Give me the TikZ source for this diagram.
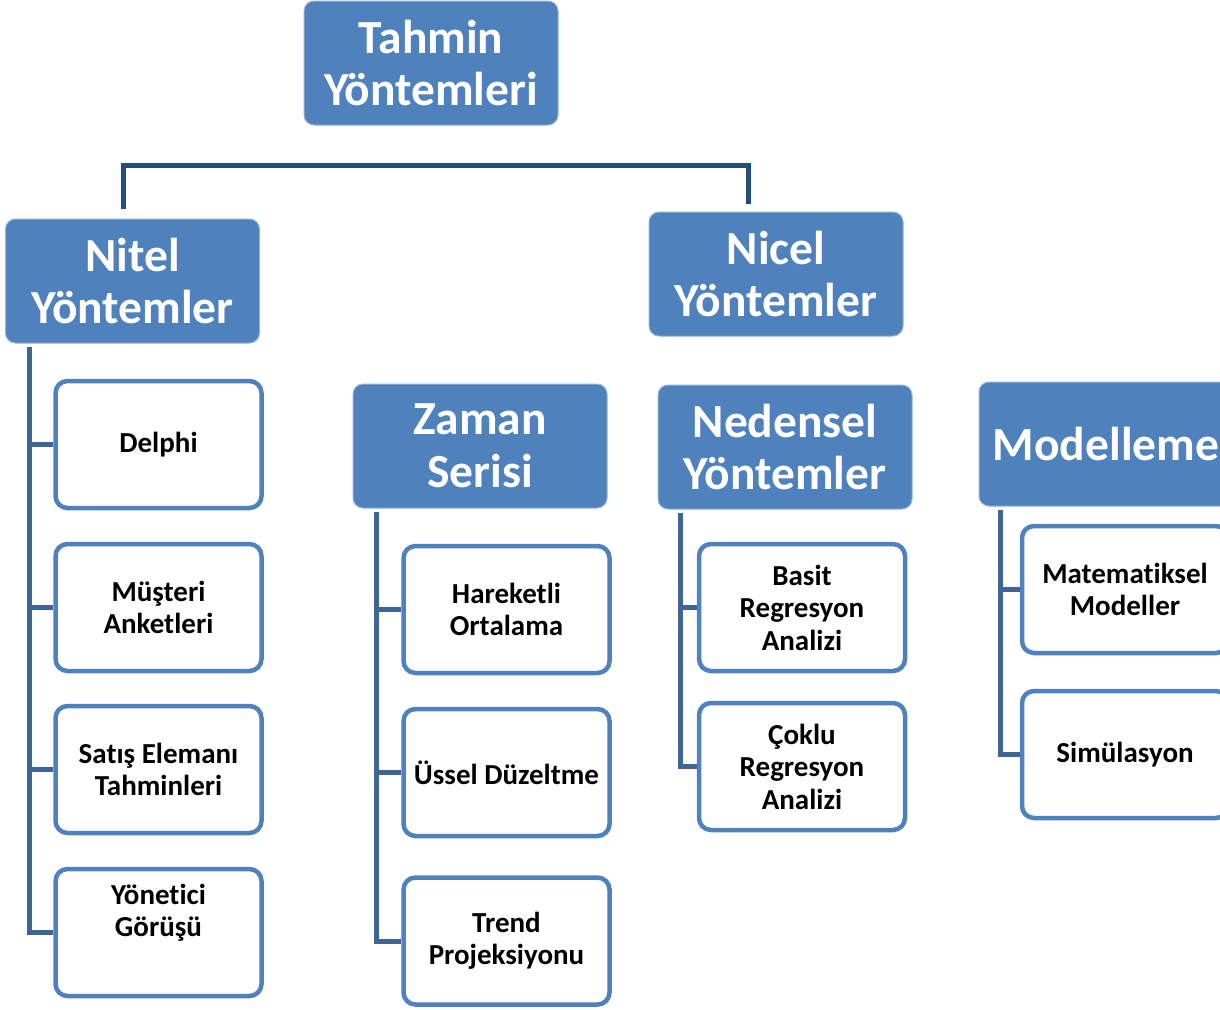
\documentclass[tikz,border=0pt]{standalone}
\usepackage{fontspec}
\setmainfont{Carlito}[Ligatures=NoCommon]
\definecolor{hdr}{RGB}{79,129,189}
\definecolor{mainln}{RGB}{36,76,124}
\definecolor{treeln}{RGB}{62,100,152}
\begin{document}
\begin{tikzpicture}[x=1pt,y=1pt,
  hbox/.style={fill=hdr,draw=hdr!60!white,line width=1pt,rounded corners=10pt,
    minimum width=254pt,minimum height=124pt,inner sep=2pt,align=center,text=white,
    font=\bfseries\fontsize{47.5}{52.5}\selectfont},
  cbox/.style={fill=white,draw=hdr,line width=4.5pt,rounded corners=12pt,
    minimum width=206pt,minimum height=127pt,inner sep=2pt,align=center,text=black,
    font=\bfseries\fontsize{29}{32.5}\selectfont},
  mainline/.style={draw=mainln,line width=5pt},
  treeline/.style={draw=treeln,line width=5pt}]
\useasboundingbox (0,0) rectangle (1220,-1009);
\clip (0,0) rectangle (1220,-1009);
% headers
\node[hbox] (tahmin) at (431,-63) {Tahmin\\Yöntemleri};
\node[hbox] (nitel) at (132.5,-281) {Nitel\\Yöntemler};
\node[hbox] (nicel) at (776,-274) {Nicel\\Yöntemler};
\node[hbox] (zaman) at (480,-446) {Zaman\\Serisi};
\node[hbox] (neden) at (785,-447) {Nedensel\\Yöntemler};
\node[hbox] (model) at (1106,-444) {Modelleme};
% top connector
\coordinate (a) at ([xshift=-9.5pt,yshift=10pt]nitel.north);
\coordinate (b) at ([xshift=-28pt,yshift=8pt]nicel.north);
\coordinate (hy) at (0,-165);
\draw[mainline] (a) -- (a |- hy) -| (b);
% Nitel column
\node[cbox] (delphi) at (158.5,-444.5) {Delphi};
\node[cbox] (musteri) at (158.5,-607.5) {Müşteri\\Anketleri};
\node[cbox] (satis) at (158.5,-769.5) {Satış Elemanı\\Tahminleri};
\node[cbox,text depth=44pt] (yonetici) at (158.5,-932.5) {Yönet\kern0pt ici\\Görüşü};
\coordinate (t1) at ([xshift=24pt,yshift=-3pt]nitel.south west);
\draw[treeline] (t1) |- (yonetici.west);
\foreach \n in {delphi,musteri,satis} \draw[treeline] (t1 |- \n.west) -- (\n.west);
% Zaman column
\node[cbox] (hareket) at (506.5,-609.5) {Hareketli\\Ortalama};
\node[cbox] (ussel) at (506.5,-772.5) {Üssel Düzeltme};
\node[cbox] (trend) at (506.5,-941) {Trend\\Projeksiyonu};
\coordinate (t2) at ([xshift=24pt,yshift=-3pt]zaman.south west);
\draw[treeline] (t2) |- (trend.west);
\foreach \n in {hareket,ussel} \draw[treeline] (t2 |- \n.west) -- (\n.west);
% Nedensel column
\node[cbox] (basit) at (802,-607.5) {Basit\\Regresyon\\Analizi};
\node[cbox] (coklu) at (802,-766.5) {Çoklu\\Regresyon\\Analizi};
\coordinate (t3) at ([xshift=23pt,yshift=-3pt]neden.south west);
\draw[treeline] (t3) |- (coklu.west);
\draw[treeline] (t3 |- basit.west) -- (basit.west);
% Modelleme column
\node[cbox] (matem) at (1125,-589.5) {Matemat\kern0pt iksel\\Modeller};
\node[cbox] (simul) at (1125,-754.5) {Simülasyon};
\coordinate (t4) at ([xshift=22pt,yshift=-3pt]model.south west);
\draw[treeline] (t4) |- (simul.west);
\draw[treeline] (t4 |- matem.west) -- (matem.west);
\end{tikzpicture}
\end{document}
